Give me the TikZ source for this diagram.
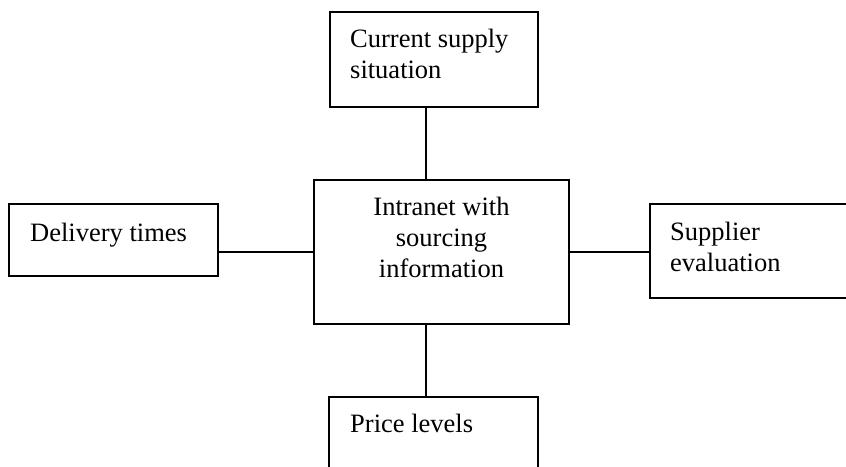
\documentclass[tikz,border=0pt]{standalone}
\usepackage{fontspec}
\setmainfont{Liberation Serif}
\begin{document}
\begin{tikzpicture}[x=1pt,y=-1pt,
  box/.style={draw, rectangle, line width=1.6pt, inner sep=0pt},
  lbl/.style={inner sep=0pt, font=\fontsize{26.5}{31}\selectfont},
  link/.style={line width=1.6pt}]
% page frame (boxes at the right and bottom run past it)
\clip (0,0) rectangle (846,466);
\fill[white] (0,0) rectangle (846,466);

% boxes
\node[box, minimum width=208pt, minimum height=95pt]  (supply)   at (434,59.5)  {};
\node[box, minimum width=255pt, minimum height=144pt] (hub)      at (441.5,252) {};
\node[box, minimum width=209pt, minimum height=72pt]  (delivery) at (113.5,240) {};
\node[box, minimum width=230pt, minimum height=94pt]  (evaluation) at (765,251) {};
\node[box, minimum width=209pt, minimum height=100pt] (price)    at (433.5,447) {};

% texts
\node[lbl, anchor=base west] (t1) at (350,47) {Current supply};
\node[lbl, anchor=base west] (t2) at (350,78) {situation};
\node[lbl, anchor=base]      (t3) at (441.5,215) {Intranet with};
\node[lbl, anchor=base]      (t4) at (441.5,246) {sourcing};
\node[lbl, anchor=base]      (t5) at (441.5,277) {information};
\node[lbl, anchor=base west] (t6) at (30,241) {Delivery times};
\node[lbl, anchor=base west] (t7) at (670,240) {Supplier};
\node[lbl, anchor=base west] (t8) at (670,271) {evaluation};
\node[lbl, anchor=base west] (t9) at (350,432) {Price levels};

% connectors
\coordinate (vx) at (426,0);
\draw[link] (supply.south -| vx) -- (hub.north -| vx);
\draw[link] (hub.south -| vx) -- (price.north -| vx);
\draw[link] (hub.west) -- (hub.west -| delivery.east);
\draw[link] (hub.east) -- (hub.east -| evaluation.west);
\end{tikzpicture}
\end{document}
